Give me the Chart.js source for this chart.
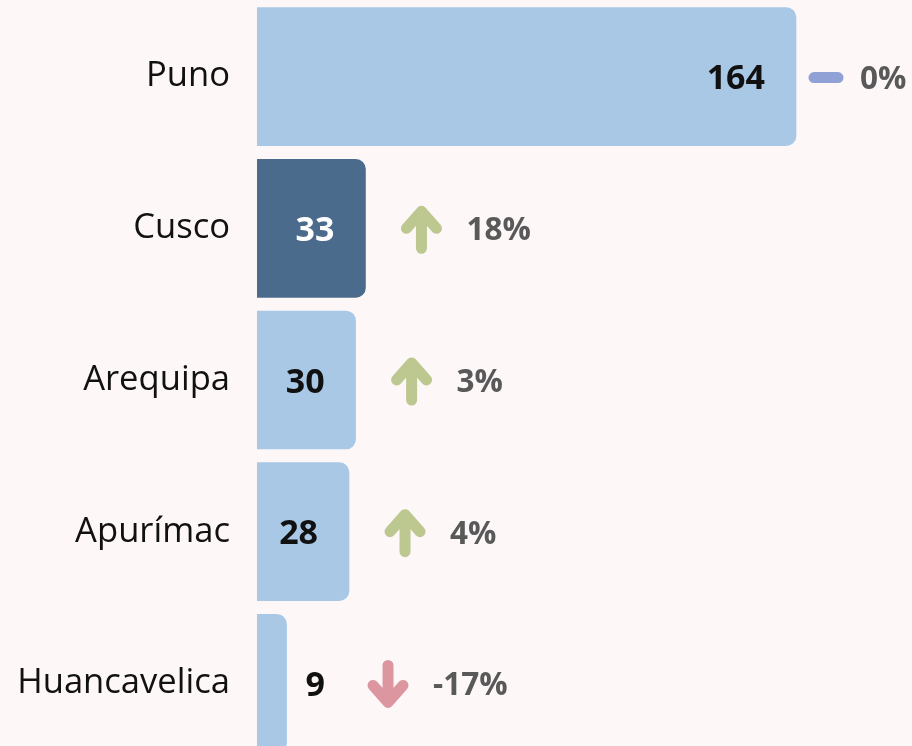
<!DOCTYPE html>
<html>
<head>
<meta charset="utf-8">
<script src="https://cdn.jsdelivr.net/npm/chart.js@4/dist/chart.umd.min.js"></script>
<style>
  html, body { margin: 0; padding: 0; background: #fdf7f7; overflow: hidden; }
  body { width: 912px; height: 746px; position: relative; }
  #wrap { position: absolute; left: 0; top: -47px; width: 912px; height: 854px; }
</style>
</head>
<body>
<div id="wrap"><canvas id="myChart"></canvas></div>
<script>
/*** Datos */
var regiones = ["Puno", "Cusco", "Arequipa", "Apurímac", "Huancavelica"];
var casos = [164, 33, 30, 28, 9];
var variacion = [0, 18, 3, 4, -17];   // % respecto al periodo anterior
var destacado = "Cusco";

var colorClaro = '#a9c8e6';
var colorOscuro = '#4a6b8b';
var fuente = "'Open Sans', 'Noto Sans', sans-serif";

var colores = regiones.map(function (r) { return r === destacado ? colorOscuro : colorClaro; });

// dibuja valor, flecha / guion y porcentaje de cada barra
var etiquetasPlugin = {
  id: 'etiquetas',
  afterDatasetsDraw: function (chart) {
    var ctx = chart.ctx;
    var meta = chart.getDatasetMeta(0);
    var ancho = chart.width;
    meta.data.forEach(function (bar, i) {
      var fin = bar.x;
      var y = bar.y;
      var largo = fin - bar.base;
      var ref;

      // valor
      ctx.save();
      ctx.font = "bold 34px " + fuente;
      ctx.textBaseline = 'middle';
      if (largo > 80) {
        ctx.textAlign = 'right';
        ctx.fillStyle = regiones[i] === destacado ? '#ffffff' : '#111111';
        ctx.fillText(casos[i], fin - 31, y + 3);
        ref = fin;
      } else {
        ctx.textAlign = 'left';
        ctx.fillStyle = '#111111';
        ctx.fillText(casos[i], fin + 19, y + 3);
        ref = fin + 19 + ctx.measureText(String(casos[i])).width + 7;
      }
      ctx.restore();

      // marcador
      var mx = Math.min(ref + 56, ancho - 86);
      var v = variacion[i];
      ctx.save();
      ctx.lineWidth = 11;
      ctx.lineCap = 'round';
      ctx.lineJoin = 'round';
      if (v === 0) {
        ctx.strokeStyle = '#8fa1d5';
        ctx.beginPath();
        ctx.moveTo(mx - 12, y + 1);
        ctx.lineTo(mx + 12, y + 1);
        ctx.stroke();
      } else if (v > 0) {
        ctx.strokeStyle = '#bcc890';
        ctx.beginPath();
        ctx.moveTo(mx, y + 20);
        ctx.lineTo(mx, y - 17);
        ctx.moveTo(mx - 15, y);
        ctx.lineTo(mx, y - 17);
        ctx.lineTo(mx + 15, y);
        ctx.stroke();
      } else {
        ctx.strokeStyle = '#dc96a0';
        ctx.beginPath();
        ctx.moveTo(mx, y - 18);
        ctx.lineTo(mx, y + 19);
        ctx.moveTo(mx - 15, y + 2);
        ctx.lineTo(mx, y + 19);
        ctx.lineTo(mx + 15, y + 2);
        ctx.stroke();
      }
      ctx.restore();

      // porcentaje
      ctx.save();
      ctx.font = "bold 31.5px " + fuente;
      ctx.textBaseline = 'middle';
      ctx.textAlign = 'left';
      ctx.fillStyle = '#595959';
      ctx.fillText(v + '%', mx + (v === 0 ? 34 : 45), y + 3);
      ctx.restore();
    });
  }
};

var ctx = document.getElementById("myChart").getContext('2d');
var myChart = new Chart(ctx, {
  type: 'bar',
  data: {
    labels: regiones,
    datasets: [{
      data: casos,
      backgroundColor: colores,
      borderRadius: 10,
      borderSkipped: 'start',
      barThickness: 138
    }]
  },
  options: {
    indexAxis: 'y',
    responsive: true,
    maintainAspectRatio: false,
    animation: false,
    plugins: {
      legend: { display: false },
      tooltip: { enabled: false }
    },
    scales: {
      x: {
        display: false,
        min: 0,
        max: 199.3
      },
      y: {
        grid: { display: false, drawTicks: false },
        border: { display: false },
        ticks: {
          color: '#111111',
          padding: 27,
          font: { family: fuente, size: 34.6 }
        },
        afterFit: function (scale) { scale.width = 257; }
      }
    }
  },
  plugins: [etiquetasPlugin]
});
</script>
</body>
</html>
